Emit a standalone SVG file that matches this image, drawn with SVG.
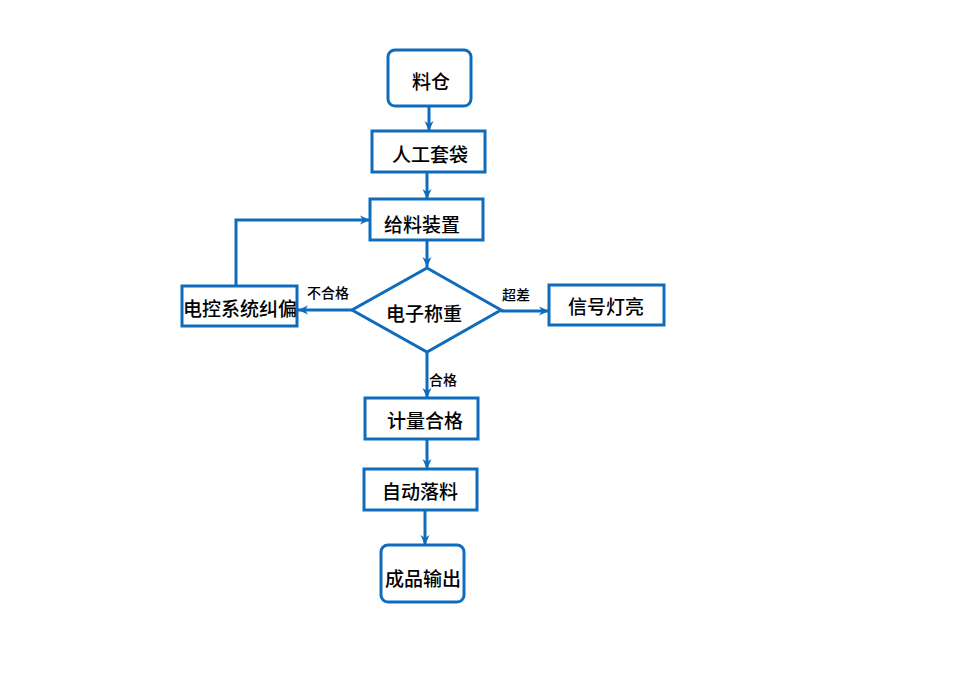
<svg xmlns="http://www.w3.org/2000/svg" width="980" height="700" viewBox="0 0 980 700">
<defs>
<style>
.n{fill:#fff;stroke:#0f6cbd;stroke-width:3}
.t{font-family:"Noto Sans CJK SC","Noto Sans",sans-serif;font-size:19px;font-weight:500;fill:#000;text-anchor:middle;dominant-baseline:central}
.l{font-family:"Noto Sans CJK SC","Noto Sans",sans-serif;font-size:14px;font-weight:500;fill:#000;text-anchor:middle;dominant-baseline:central}
.c{fill:none;stroke:#0f6cbd;stroke-width:3}
</style>
<marker id="a" markerWidth="12" markerHeight="12" viewBox="0 0 12 12" refX="11" refY="6" orient="auto" markerUnits="userSpaceOnUse">
<path d="M1,1.5 L11,6 L1,10.5 L4,6 Z" fill="#0f6cbd"/>
</marker>
</defs>
<rect width="980" height="700" fill="#fff"/>
<g id="connectors">
<line class="c" x1="429" y1="106" x2="429" y2="131" marker-end="url(#a)"/>
<line class="c" x1="427" y1="172" x2="427" y2="199" marker-end="url(#a)"/>
<line class="c" x1="427" y1="240" x2="427" y2="267" marker-end="url(#a)"/>
<line class="c" x1="352" y1="310" x2="298" y2="310" marker-end="url(#a)"/>
<line class="c" x1="501" y1="311" x2="549" y2="311" marker-end="url(#a)"/>
<line class="c" x1="427" y1="352" x2="427" y2="398" marker-end="url(#a)"/>
<polyline class="c" points="236,286 236,220 370,220" marker-end="url(#a)"/>
<line class="c" x1="427" y1="439" x2="427" y2="469" marker-end="url(#a)"/>
<line class="c" x1="425" y1="510" x2="425" y2="545" marker-end="url(#a)"/>
<text class="l" x="328" y="292">不合格</text>
<text class="l" x="516" y="294">超差</text>
<text class="l" x="443" y="379">合格</text>
</g>
<g id="n1"><rect class="n" x="388" y="50" width="83" height="56" rx="7"/><text class="t" x="431" y="80">料仓</text></g>
<g id="n2"><rect class="n" x="372" y="131" width="113" height="41"/><text class="t" x="430" y="153">人工套袋</text></g>
<g id="n3"><rect class="n" x="370" y="199" width="113" height="41"/><text class="t" x="422" y="223">给料装置</text></g>
<g id="n4"><polygon class="n" points="427,268 501,310 427,352 352,310"/><text class="t" x="424" y="312">电子称重</text></g>
<g id="n5"><rect class="n" x="182" y="286" width="115" height="40"/><text class="t" x="240" y="307">电控系统纠偏</text></g>
<g id="n6"><rect class="n" x="549" y="285" width="115" height="40"/><text class="t" x="606" y="305">信号灯亮</text></g>
<g id="n7"><rect class="n" x="365" y="398" width="113" height="41"/><text class="t" x="425" y="419">计量合格</text></g>
<g id="n8"><rect class="n" x="364" y="469" width="113" height="41"/><text class="t" x="420" y="490">自动落料</text></g>
<g id="n9"><rect class="n" x="381" y="545" width="83" height="57" rx="7"/><text class="t" x="423" y="577">成品输出</text></g>
</svg>
